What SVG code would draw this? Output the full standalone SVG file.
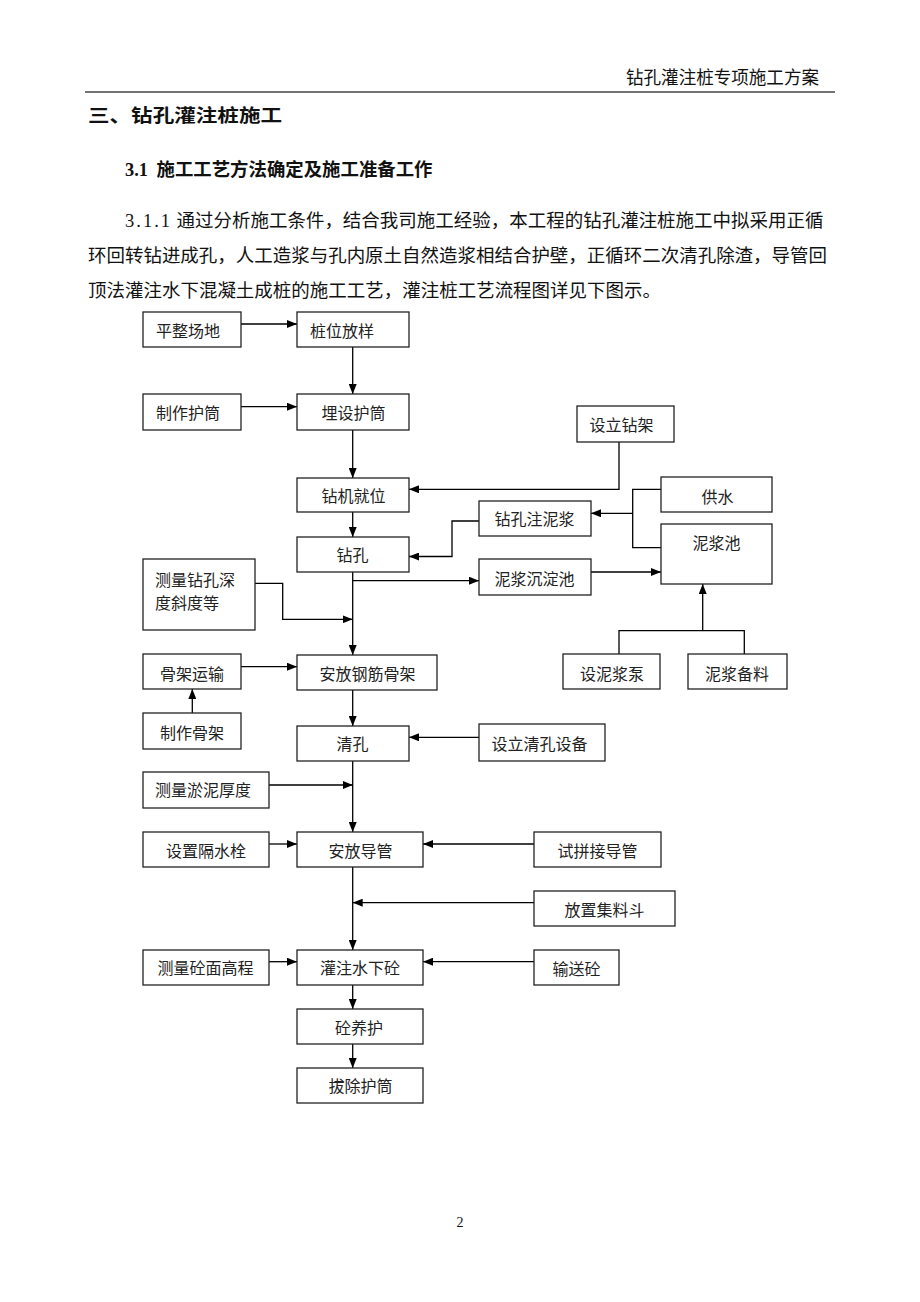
<svg xmlns="http://www.w3.org/2000/svg" width="920" height="1302" viewBox="0 0 920 1302">
<defs>
<marker id="ah" markerUnits="userSpaceOnUse" markerWidth="10" markerHeight="8" refX="10" refY="4" orient="auto">
<path d="M0,0 L10,4 L0,8 z" fill="#000"/>
</marker>
<style>
.bx{fill:#fff;stroke:#222;stroke-width:1.3}
.t{font-family:"Noto Sans CJK SC","Noto Sans",sans-serif;font-size:16px;fill:#222}
.c{fill:none;stroke:#000;stroke-width:1.3}
.a{fill:none;stroke:#000;stroke-width:1.3;marker-end:url(#ah)}
.p{font-family:"Noto Sans CJK SC","Noto Sans",sans-serif;font-size:18.5px;fill:#111}
.n{font-family:"Liberation Serif",serif;fill:#111}
</style>
</defs>
<rect width="920" height="1302" fill="#fff"/>
<text class="p" x="626" y="84" font-size="17.5" textLength="193" lengthAdjust="spacingAndGlyphs">钻孔灌注桩专项施工方案</text>
<line x1="85" y1="92" x2="835" y2="92" stroke="#444" stroke-width="1.5"/>
<text class="p" x="88" y="122" font-size="21" font-weight="bold" textLength="194" lengthAdjust="spacingAndGlyphs">三、钻孔灌注桩施工</text>
<text class="n" x="125" y="176" font-size="18" font-weight="bold" textLength="23" lengthAdjust="spacingAndGlyphs">3.1</text>
<text class="p" x="156.5" y="175.5" font-size="18" font-weight="bold" textLength="276" lengthAdjust="spacingAndGlyphs">施工工艺方法确定及施工准备工作</text>
<text class="n" x="125" y="227" font-size="18.5" textLength="45" lengthAdjust="spacing">3.1.1</text>
<text class="p" x="176.5" y="227" textLength="647" lengthAdjust="spacingAndGlyphs">通过分析施工条件，结合我司施工经验，本工程的钻孔灌注桩施工中拟采用正循</text>
<text class="p" x="88" y="262" textLength="739" lengthAdjust="spacingAndGlyphs">环回转钻进成孔，人工造浆与孔内原土自然造浆相结合护壁，正循环二次清孔除渣，导管回</text>
<text class="p" x="88" y="297" textLength="573" lengthAdjust="spacingAndGlyphs">顶法灌注水下混凝土成桩的施工工艺，灌注桩工艺流程图详见下图示。</text>

<g id="connectors">
<line class="a" x1="241" y1="324" x2="297" y2="324"/>
<line class="a" x1="352.7" y1="347" x2="352.7" y2="394"/>
<line class="a" x1="241" y1="406.7" x2="297" y2="406.7"/>
<line class="a" x1="352.7" y1="430" x2="352.7" y2="478"/>
<polyline class="a" points="619,442 619,489.3 409,489.3"/>
<line class="a" x1="352.7" y1="512" x2="352.7" y2="537"/>
<polyline class="c" points="661,489.3 632.7,489.3 632.7,547.7 661,547.7"/>
<line class="a" x1="632.7" y1="513.3" x2="591" y2="513.3"/>
<polyline class="a" points="479,521 452,521 452,556.5 409,556.5"/>
<line class="a" x1="352.7" y1="572" x2="352.7" y2="655"/>
<line class="a" x1="352.7" y1="580.7" x2="479" y2="580.7"/>
<line class="a" x1="591" y1="572" x2="661" y2="572"/>
<polyline class="a" points="255,583.3 282.7,583.3 282.7,619.3 352.7,619.3"/>
<polyline class="c" points="619,654 619,630.7 744.3,630.7 744.3,654"/>
<line class="a" x1="702.7" y1="630.7" x2="702.7" y2="584"/>
<line class="a" x1="241" y1="666.7" x2="297" y2="666.7"/>
<line class="a" x1="192.3" y1="713" x2="192.3" y2="689"/>
<line class="a" x1="352.7" y1="690" x2="352.7" y2="726"/>
<line class="a" x1="479" y1="737.3" x2="409" y2="737.3"/>
<line class="a" x1="352.7" y1="761" x2="352.7" y2="832"/>
<line class="a" x1="269" y1="785" x2="352.7" y2="785"/>
<line class="a" x1="269" y1="844" x2="297" y2="844"/>
<line class="a" x1="534" y1="844" x2="423" y2="844"/>
<line class="a" x1="352.7" y1="867" x2="352.7" y2="950"/>
<line class="a" x1="534" y1="902.7" x2="352.7" y2="902.7"/>
<line class="a" x1="269" y1="961.7" x2="297" y2="961.7"/>
<line class="a" x1="534" y1="961.7" x2="423" y2="961.7"/>
<line class="a" x1="352.7" y1="985" x2="352.7" y2="1009"/>
<line class="a" x1="352.7" y1="1044" x2="352.7" y2="1068"/>
</g>

<g id="n1"><rect class="bx" x="143" y="312" width="98" height="35"/><text class="t" x="156" y="337">平整场地</text></g>
<g id="n2"><rect class="bx" x="297" y="312" width="112" height="35"/><text class="t" x="310" y="337">桩位放样</text></g>
<g id="n3"><rect class="bx" x="143" y="394" width="98" height="36"/><text class="t" x="156" y="419">制作护筒</text></g>
<g id="n4"><rect class="bx" x="297" y="394" width="112" height="36"/><text class="t" x="321.5" y="419">埋设护筒</text></g>
<g id="n5"><rect class="bx" x="577" y="406" width="97" height="36"/><text class="t" x="589.5" y="431">设立钻架</text></g>
<g id="n6"><rect class="bx" x="297" y="478" width="112" height="34"/><text class="t" x="321.5" y="502">钻机就位</text></g>
<g id="n7"><rect class="bx" x="661" y="477" width="111" height="35"/><text class="t" x="701.5" y="502.5">供水</text></g>
<g id="n8"><rect class="bx" x="479" y="501" width="112" height="35"/><text class="t" x="494.5" y="525">钻孔注泥浆</text></g>
<g id="n9"><rect class="bx" x="661" y="524" width="111" height="60"/><text class="t" x="692.5" y="549">泥浆池</text></g>
<g id="n10"><rect class="bx" x="297" y="537" width="112" height="35"/><text class="t" x="336.5" y="561">钻孔</text></g>
<g id="n11"><rect class="bx" x="143" y="559" width="112" height="71"/><text class="t" x="155" y="585.5">测量钻孔深</text><text class="t" x="155" y="609">度斜度等</text></g>
<g id="n12"><rect class="bx" x="479" y="559" width="112" height="36"/><text class="t" x="494.5" y="584.5">泥浆沉淀池</text></g>
<g id="n13"><rect class="bx" x="563" y="654" width="97" height="35"/><text class="t" x="580" y="679.5">设泥浆泵</text></g>
<g id="n14"><rect class="bx" x="688" y="654" width="99" height="35"/><text class="t" x="705" y="679.5">泥浆备料</text></g>
<g id="n15"><rect class="bx" x="143" y="654" width="98" height="35"/><text class="t" x="160" y="679.5">骨架运输</text></g>
<g id="n16"><rect class="bx" x="297" y="655" width="140" height="35"/><text class="t" x="319.5" y="679.5">安放钢筋骨架</text></g>
<g id="n17"><rect class="bx" x="143" y="713" width="98" height="36"/><text class="t" x="160" y="738.5">制作骨架</text></g>
<g id="n18"><rect class="bx" x="297" y="726" width="112" height="35"/><text class="t" x="336.5" y="750">清孔</text></g>
<g id="n19"><rect class="bx" x="479" y="724" width="126" height="37"/><text class="t" x="491.5" y="749.5">设立清孔设备</text></g>
<g id="n20"><rect class="bx" x="143" y="772" width="126" height="36"/><text class="t" x="155" y="796">测量淤泥厚度</text></g>
<g id="n21"><rect class="bx" x="143" y="832" width="126" height="35"/><text class="t" x="166" y="857">设置隔水栓</text></g>
<g id="n22"><rect class="bx" x="297" y="832" width="126" height="35"/><text class="t" x="328.5" y="857">安放导管</text></g>
<g id="n23"><rect class="bx" x="534" y="832" width="127" height="35"/><text class="t" x="557.5" y="857">试拼接导管</text></g>
<g id="n24"><rect class="bx" x="534" y="891" width="141" height="35"/><text class="t" x="564.5" y="915.5">放置集料斗</text></g>
<g id="n25"><rect class="bx" x="143" y="950" width="126" height="35"/><text class="t" x="157.5" y="973.5">测量砼面高程</text></g>
<g id="n26"><rect class="bx" x="297" y="950" width="126" height="35"/><text class="t" x="320" y="973.5">灌注水下砼</text></g>
<g id="n27"><rect class="bx" x="534" y="950" width="85" height="35"/><text class="t" x="552.5" y="974.5">输送砼</text></g>
<g id="n28"><rect class="bx" x="297" y="1009" width="126" height="35"/><text class="t" x="335" y="1033.5">砼养护</text></g>
<g id="n29"><rect class="bx" x="297" y="1068" width="126" height="35"/><text class="t" x="328.5" y="1092">拔除护筒</text></g>

<text class="n" x="460" y="1227" font-size="14" text-anchor="middle">2</text>
</svg>
